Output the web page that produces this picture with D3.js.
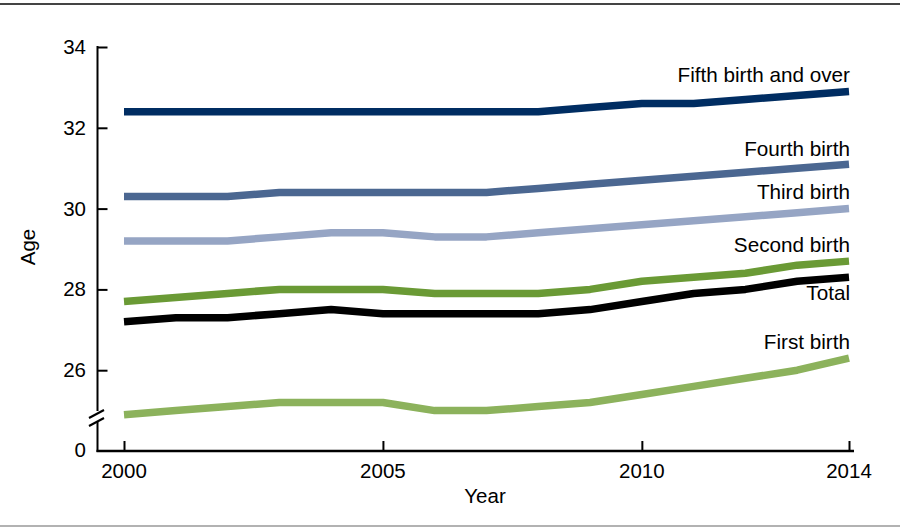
<!DOCTYPE html>
<html><head><meta charset="utf-8">
<script src="https://cdn.jsdelivr.net/npm/d3@7"></script>
<style>body{margin:0;background:#fff}svg{display:block}text{font-family:"Liberation Sans",Arial,sans-serif;fill:#000}</style>
</head><body><svg id="c" width="900" height="530"></svg>
<script>
const years = [2000,2001,2002,2003,2004,2005,2006,2007,2008,2009,2010,2011,2012,2013,2014];
const fifthBirth  = [32.4,32.4,32.4,32.4,32.4,32.4,32.4,32.4,32.4,32.5,32.6,32.6,32.7,32.8,32.9];
const fourthBirth = [30.3,30.3,30.3,30.4,30.4,30.4,30.4,30.4,30.5,30.6,30.7,30.8,30.9,31.0,31.1];
const thirdBirth  = [29.2,29.2,29.2,29.3,29.4,29.4,29.3,29.3,29.4,29.5,29.6,29.7,29.8,29.9,30.0];
const secondBirth = [27.7,27.8,27.9,28.0,28.0,28.0,27.9,27.9,27.9,28.0,28.2,28.3,28.4,28.6,28.7];
const total       = [27.2,27.3,27.3,27.4,27.5,27.4,27.4,27.4,27.4,27.5,27.7,27.9,28.0,28.2,28.3];
const firstBirth  = [24.9,25.0,25.1,25.2,25.2,25.2,25.0,25.0,25.1,25.2,25.4,25.6,25.8,26.0,26.3];
const seriesNames = ["Fifth birth and over","Fourth birth","Third birth","Second birth","Total","First birth"];
const yTickValues = [34,32,30,28,26];
const xTickValues = [2000,2005,2010,2014];

const seriesData = [fifthBirth,fourthBirth,thirdBirth,secondBirth,total,firstBirth];
const colors = ["#002d62","#4b6791","#96a5c4","#6a9a35","#000000","#8cb25c"];
const labelDy = [-9,-8,-10,-9.5,23,-9];

const svg = d3.select("#c");
svg.append("line").attr("x1",0).attr("x2",900).attr("y1",4).attr("y2",4).attr("stroke","#444").attr("stroke-width",2);
svg.append("line").attr("x1",0).attr("x2",900).attr("y1",526).attr("y2",526).attr("stroke","#999").attr("stroke-width",1.5);

const x = d3.scaleLinear().domain([2000,2014]).range([124,849]);
const y = d3.scaleLinear().domain([24,34]).range([451,47]);
const axisX = 97.5, axisY = 451;
const tickFont = 20.5, labelFont = 20.7;

const yAxis = d3.axisRight(y).tickValues(yTickValues).tickSize(10).tickFormat("");
const gy = svg.append("g").attr("transform",`translate(${axisX},0)`).call(yAxis);
gy.select(".domain").remove();
gy.selectAll(".tick line").attr("stroke","#000").attr("stroke-width",2);
svg.selectAll(".ylab").data(yTickValues).enter().append("text")
  .attr("x",86).attr("y",d=>y(d)+7).attr("text-anchor","end").attr("font-size",tickFont).text(d=>d);
svg.append("text").attr("x",86).attr("y",axisY+6).attr("text-anchor","end").attr("font-size",tickFont).text("0");
svg.append("line").attr("x1",axisX).attr("x2",axisX).attr("y1",46).attr("y2",411).attr("stroke","#000").attr("stroke-width",2);
svg.append("line").attr("x1",axisX).attr("x2",axisX).attr("y1",421).attr("y2",axisY+1).attr("stroke","#000").attr("stroke-width",2);
svg.append("line").attr("x1",89).attr("y1",418).attr("x2",104).attr("y2",410).attr("stroke","#000").attr("stroke-width",2);
svg.append("line").attr("x1",89).attr("y1",426).attr("x2",104).attr("y2",418).attr("stroke","#000").attr("stroke-width",2);

const xAxis = d3.axisTop(x).tickValues(xTickValues).tickSize(10).tickFormat("");
const gx = svg.append("g").attr("transform",`translate(0,${axisY})`).call(xAxis);
gx.select(".domain").remove();
gx.selectAll(".tick line").attr("stroke","#000").attr("stroke-width",2);
svg.append("line").attr("x1",axisX-1).attr("x2",854).attr("y1",axisY).attr("y2",axisY).attr("stroke","#000").attr("stroke-width",2.5);
svg.selectAll(".xlab").data(xTickValues).enter().append("text")
  .attr("x",d=>x(d)).attr("y",478).attr("text-anchor","middle").attr("font-size",tickFont).text(d=>d);

svg.append("text").attr("x",485).attr("y",503).attr("text-anchor","middle").attr("font-size",tickFont).text("Year");
svg.append("text").attr("transform","translate(35,247) rotate(-90)").attr("text-anchor","middle").attr("font-size",tickFont).text("Age");

const line = d3.line().x((d,i)=>x(years[i])).y(d=>y(d));
seriesData.forEach((s,k)=>{
  svg.append("path").datum(s).attr("d",line).attr("fill","none")
    .attr("stroke",colors[k]).attr("stroke-width",7.5).attr("stroke-linejoin","round");
});
seriesData.forEach((s,k)=>{
  svg.append("text").attr("x",x(2014)+1).attr("y",y(s[s.length-1])+labelDy[k])
    .attr("text-anchor","end").attr("font-size",labelFont).text(seriesNames[k]);
});
</script></body></html>
